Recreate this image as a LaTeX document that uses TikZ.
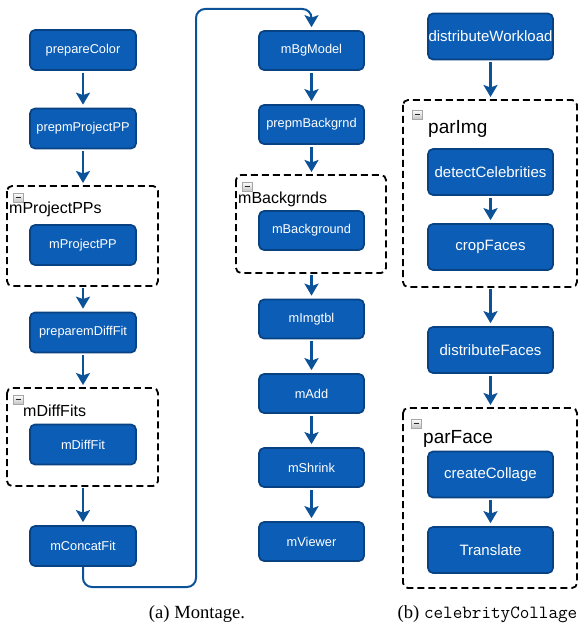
\documentclass[tikz,border=0pt]{standalone}
\usepackage{fontspec}
\setmainfont{Liberation Serif}
\newfontfamily\arial{Liberation Sans}
\usetikzlibrary{arrows.meta}
\definecolor{boxblue}{RGB}{12,93,182}
\definecolor{boxedge}{RGB}{8,66,130}
\definecolor{arrblue}{RGB}{12,82,152}
\tikzset{
  task/.style={draw=boxedge, fill=boxblue, line width=1.7pt, rounded corners=5pt,
    text=white, inner sep=0pt, minimum width=106pt, minimum height=40pt,
    font=\arial\fontsize{12.8}{14}\selectfont},
  bigtask/.style={task, minimum width=125pt, minimum height=46pt,
    font=\arial\fontsize{15}{17}\selectfont},
  flow/.style={draw=arrblue, line width=2.5pt, -{Stealth[length=12pt,width=14pt,inset=2.5pt]},
    shorten <=2pt, shorten >=3pt},
  group/.style={draw=black, line width=1.8pt, dash pattern=on 7pt off 4pt, rounded corners=5pt},
  glabel/.style={anchor=base west, inner sep=0pt, font=\arial\fontsize{16}{18}\selectfont},
  biglabel/.style={anchor=base west, inner sep=0pt, font=\arial\fontsize{19}{21}\selectfont},
  captext/.style={anchor=base, inner sep=0pt, font=\fontsize{18.6}{20}\selectfont}
}
\newcommand{\minusicon}[2]{%
  \fill[top color=white, bottom color=gray!45, draw=gray!70, line width=0.5pt] (#1,#2) rectangle ++(10,9);
  \draw[gray!30!black, line width=1pt] (#1+2.5,#2+4.5) -- (#1+7.5,#2+4.5);
}
\begin{document}
\begin{tikzpicture}[x=1pt, y=-1pt]
\useasboundingbox (0,0) rectangle (580,631);

% ---- groups (dashed) ----
\draw[group] (7,186) rectangle (158,286);
\draw[group] (7,388) rectangle (158,486);
\draw[group] (236,175) rectangle (386,273);
\draw[group] (403,100) rectangle (577,287);
\draw[group] (403,408) rectangle (577,588);

\coordinate (g1t) at (83,186); \coordinate (g1b) at (83,286);
\coordinate (g2t) at (83,388); \coordinate (g2b) at (83,486);
\coordinate (g3t) at (311.5,175); \coordinate (g3b) at (311.5,273);
\coordinate (g4t) at (490.5,100); \coordinate (g4b) at (490.5,287);
\coordinate (g5t) at (490.5,408);

\minusicon{13}{193}
\minusicon{13}{395}
\minusicon{242}{182}
\minusicon{412}{110}
\minusicon{411}{419}

\node[glabel] (l1) at (9,213) {mProjectPPs};
\node[glabel] (l2) at (23,416) {mDiffFits};
\node[glabel] (l3) at (238,203) {mBackgrnds};
\node[biglabel] (l4) at (428,134) {parImg};
\node[biglabel] (l5) at (423,443) {parFace};

% ---- left column ----
\node[task] (pc) at (83,50) {prepareColor};
\node[task] (ppp) at (83,128.5) {prepmProjectPP};
\node[task] (mpp) at (83,245) {mProjectPP};
\node[task] (pdf) at (83,332.5) {preparemDiffFit};
\node[task] (mdf) at (83,444.5) {mDiffFit};
\node[task] (mcf) at (83,546) {mConcatFit};

% ---- middle column ----
\node[task, minimum width=105pt, minimum height=39pt] (bgm) at (311.5,50.5) {mBgModel};
\node[task, minimum width=105pt, minimum height=39pt] (pbg) at (311.5,124.5) {prepmBackgrnd};
\node[task, minimum width=105pt, minimum height=39pt] (mbg) at (311.5,230.5) {mBackground};
\node[task, minimum width=105pt, minimum height=39pt] (mit) at (311.5,319) {mImgtbl};
\node[task, minimum width=105pt, minimum height=39pt] (mad) at (311.5,393.5) {mAdd};
\node[task, minimum width=105pt, minimum height=39pt] (msh) at (311.5,467.5) {mShrink};
\node[task, minimum width=105pt, minimum height=39pt] (mvw) at (311.5,541.5) {mViewer};

% ---- right column ----
\node[bigtask] (dw) at (490.5,36.5) {distributeWorkload};
\node[bigtask] (dc) at (490.5,172) {detectCelebrities};
\node[bigtask] (cf) at (490.5,247) {cropFaces};
\node[bigtask] (df) at (490.5,350) {distributeFaces};
\node[bigtask] (cc) at (490.5,474.5) {createCollage};
\node[bigtask] (tr) at (490.5,550) {Translate};

% ---- arrows ----
\draw[flow] (pc) -- (ppp);
\draw[flow] (ppp) -- (g1t);
\draw[flow] (g1b) -- (pdf);
\draw[flow] (pdf) -- (g2t);
\draw[flow] (g2b) -- (mcf);
\draw[draw=arrblue, line width=2pt, rounded corners=9pt, -{Stealth[length=12pt,width=14pt,inset=2.5pt]}, shorten >=3pt]
  (mcf.south) -- (83,587) -- (196,587) -- (196,9) -- (311.5,9) -- (bgm.north);
\draw[flow] (bgm) -- (pbg);
\draw[flow] (pbg) -- (g3t);
\draw[flow] (g3b) -- (mit);
\draw[flow] (mit) -- (mad);
\draw[flow] (mad) -- (msh);
\draw[flow] (msh) -- (mvw);
\draw[flow] (dw) -- (g4t);
\draw[flow] (dc) -- (cf);
\draw[flow] (g4b) -- (df);
\draw[flow] (df) -- (g5t);
\draw[flow] (cc) -- (tr);

% ---- captions ----
\node[captext] (ca) at (197,618) {(a) Montage.};
\node[captext] (cb) at (487.5,618) {(b) \texttt{celebrityCollage}};
\end{tikzpicture}
\end{document}
